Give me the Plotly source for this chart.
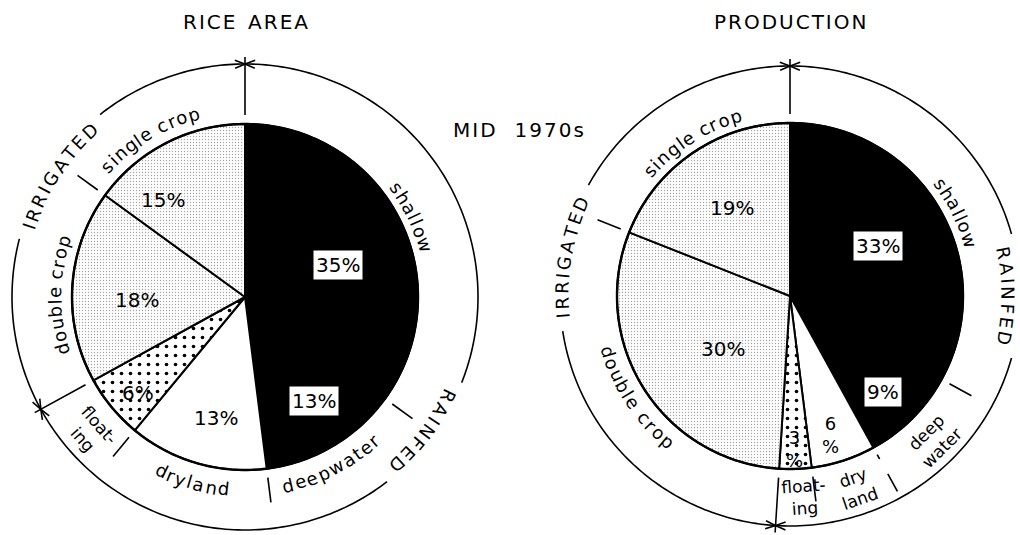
import math
import plotly.graph_objects as go

W, H = 1020, 535

# ---------------- data ----------------
segments = ["shallow", "deepwater", "dryland", "floating", "double crop", "single crop"]
area_pct = [35, 13, 13, 6, 18, 15]
production_pct = [33, 9, 6, 3, 30, 19]
group_names = ["RAINFED", "IRRIGATED"]
segment_group = [0, 0, 0, 0, 1, 1]
chart_titles = ["RICE AREA", "PRODUCTION"]
period_label = "MID 1970s"
area_ring_text = ["shallow", "deepwater", "dryland", "float-<br>ing", "double crop", "single crop"]
production_ring_text = ["shallow", "deep<br>water", "dry<br>land", "float-<br>ing", "double crop", "single crop"]

# ---------------- style ----------------
FONT = "DejaVu Sans"
slice_fill = ["black", "black", "white", "white", "white", "white"]
pattern_shape = ["", "", "", ".", ".", "."]
pattern_fg = ["black", "black", "black", "black", "#a6a6a6", "#a6a6a6"]
pattern_bg = ["black", "black", "white", "white", "white", "white"]
pattern_size = [6, 6, 6, 9, 3, 3]
pattern_solidity = [0.2, 0.2, 0.2, 0.13, 0.16, 0.16]

charts = [
    dict(values=area_pct, title=chart_titles[0], ring_text=area_ring_text,
         cx=245, cy=297, r=173, ring=233,
         pct_place=[(8, 98), (-3, 125), (-2.7, 124), (-2.4, 144), (-5.2, 108), (-13, 127)],
         pct_stack=[False] * 6,
         ring_place=[(64.4, 187, "out", True), (152.9, 193, "in", True), (196, 193, "in", True),
                     (228.8, 205, "in", False), (270.5, 190, "out", True), (329, 190, "out", True)],
         group_place=[(127, 226), (303, 227)],
         tick_extra={}),
    dict(values=production_pct, title=chart_titles[1], ring_text=production_ring_text,
         cx=790, cy=296, r=173, ring=230,
         pct_place=[(1, 101), (1, 134), (1.6, 145), (0, 153), (-6, 85), (0.8, 105)],
         pct_stack=[False, False, True, True, False, False],
         ring_place=[(63.4, 188, "out", True), (135, 204, "in", False), (160.8, 203, "in", False),
                     (176, 201, "in", False), (236.6, 190, "in", True), (327.6, 188, "out", True)],
         group_place=[(90, 218), (280, 228)],
         tick_extra={2: [(181, 186), (203, 223)]}),
]

CW = {'a': .613, 'b': .635, 'c': .550, 'd': .635, 'e': .615, 'f': .352, 'g': .635, 'h': .634,
      'i': .278, 'l': .278, 'n': .634, 'o': .612, 'p': .635, 'r': .411, 's': .521, 't': .392,
      'u': .634, 'w': .818, 'y': .592, ' ': .318, '-': .361,
      'A': .684, 'D': .770, 'E': .632, 'F': .575, 'G': .775, 'I': .295, 'N': .748, 'R': .695,
      'T': .611}


def polar(cx, cy, r, deg):
    a = math.radians(deg)
    return cx + r * math.sin(a), cy - r * math.cos(a)


def px2paper(x, y):
    return x / W, 1 - y / H


def path_of(points):
    return "M " + " L ".join(f"{x / W:.5f},{1 - y / H:.5f}" for x, y in points)


def text_width(text, size, track):
    return sum(CW.get(c, 0.6) * size + track for c in text)


def spaced(text, gap):
    return gap.join("\u200a".join(w) for w in text.split(" "))


annotations = []
shapes = []
LINE = dict(color="black", width=1.6)


def add_ann(x, y, text, size, angle=0, **kw):
    xp, yp = px2paper(x, y)
    annotations.append(dict(x=xp, y=yp, xref="paper", yref="paper", text=text, showarrow=False,
                            textangle=angle, xanchor="center", yanchor="middle",
                            font=dict(family=FONT, size=size, color="black"), **kw))


def curved_text(text, cx, cy, r, ang_c, size, orient, track):
    total = text_width(text, size, track)
    s = -total / 2
    for c in text:
        w = CW.get(c, 0.6) * size + track
        d = math.degrees((s + w / 2) / r)
        if orient == "out":
            th = ang_c + d
            rot = th
        else:
            th = ang_c - d
            rot = th - 180
        if c != " ":
            x, y = polar(cx, cy, r, th)
            rot = ((rot + 180) % 360) - 180
            add_ann(x, y, c, size, rot)
        s += w


def arc_pts(cx, cy, r, a0, a1):
    n = max(2, int(abs(a1 - a0) / 1.0) + 1)
    return [polar(cx, cy, r, a0 + (a1 - a0) * i / (n - 1)) for i in range(n)]


fig = go.Figure()

for ch in charts:
    vals = ch["values"]
    cx, cy, r, R = ch["cx"], ch["cy"], ch["r"], ch["ring"]
    total = float(sum(vals))
    cum = [0.0]
    for v in vals:
        cum.append(cum[-1] + 360.0 * v / total)

    x0, y0 = px2paper(cx - r, cy + r)
    x1, y1 = px2paper(cx + r, cy - r)
    fig.add_trace(go.Pie(
        values=vals, labels=segments, sort=False, direction="clockwise", rotation=0,
        textinfo="none", hoverinfo="label+percent", showlegend=False,
        marker=dict(colors=slice_fill, line=dict(color="black", width=2),
                    pattern=dict(shape=pattern_shape, fgcolor=pattern_fg, bgcolor=pattern_bg,
                                 size=pattern_size, solidity=pattern_solidity)),
        domain=dict(x=[x0, x1], y=[y0, y1])))
    # outer pie outline
    shapes.append(dict(type="path", xref="paper", yref="paper",
                       path=path_of(arc_pts(cx, cy, r, 0, 360)) + " Z",
                       line=dict(color="black", width=2.4)))

    # title
    add_ann(cx, 22, spaced(ch["title"], "\u00a0\u00a0"), 20)

    # percentage labels
    for i, v in enumerate(vals):
        mid = (cum[i] + cum[i + 1]) / 2
        off, rr = ch["pct_place"][i]
        x, y = polar(cx, cy, rr, mid + off)
        txt = f"{v}<br>%" if ch["pct_stack"][i] else f"{v}%"
        extra = {}
        if slice_fill[i] == "black":
            extra = dict(bgcolor="white", borderpad=2)
        add_ann(x, y, txt, 20 if not ch["pct_stack"][i] else 18, **extra)

    # ring segment labels
    for i, t in enumerate(ch["ring_text"]):
        ang, rr, orient, curved = ch["ring_place"][i]
        if curved:
            curved_text(t, cx, cy, rr, ang, 18, orient, 1.4)
        else:
            x, y = polar(cx, cy, rr, ang)
            rot = ang if orient == "out" else ang - 180
            add_ann(x, y, t, 17, ((rot + 180) % 360) - 180)

    # boundaries
    group_bounds = []
    for i in range(len(vals)):
        prev = segment_group[i - 1]
        if segment_group[i] != prev:
            group_bounds.append(cum[i])
        else:
            segs = ch["tick_extra"].get(i, [(182, 207)])
            for a, b in segs:
                shapes.append(dict(type="path", xref="paper", yref="paper",
                                   path=path_of([polar(cx, cy, a, cum[i]), polar(cx, cy, b, cum[i])]),
                                   line=LINE))
    for gb in group_bounds:
        shapes.append(dict(type="path", xref="paper", yref="paper",
                           path=path_of([polar(cx, cy, r + 9, gb), polar(cx, cy, R + 7, gb)]),
                           line=LINE))
        tip = polar(cx, cy, R, gb)
        for s in (1, -1):
            ba = gb + s * math.degrees(10 / R)
            b1 = polar(cx, cy, R + 4, ba)
            b2 = polar(cx, cy, R - 4, ba)
            shapes.append(dict(type="path", xref="paper", yref="paper",
                               path=path_of([b1, tip, b2]), line=LINE))

    # group arcs with gaps for group names
    gstart = [cum[segment_group.index(g)] for g in range(len(group_names))]
    gend = [cum[len(segment_group) - segment_group[::-1].index(g)] for g in range(len(group_names))]
    for g, name in enumerate(group_names):
        gang, grr = ch["group_place"][g]
        half = math.degrees((text_width(name, 18, 3.2) / 2 + 12) / R)
        a0, a1 = gstart[g], gend[g]
        for s0, s1 in ((a0, gang - half), (gang + half, a1)):
            if s1 > s0:
                shapes.append(dict(type="path", xref="paper", yref="paper",
                                   path=path_of(arc_pts(cx, cy, R, s0, s1)), line=LINE))
        curved_text(name, cx, cy, grr, gang, 18, "out", 3.2)

add_ann(518, 130, spaced(period_label, "\u00a0\u00a0\u00a0"), 20)

fig.update_layout(width=W, height=H, margin=dict(l=0, r=0, t=0, b=0),
                  paper_bgcolor="white", plot_bgcolor="white",
                  annotations=annotations, shapes=shapes)
fig.write_html("out.html", config={"displayModeBar": False},
               post_script="document.body.style.margin='0';document.body.style.overflow='hidden';")
